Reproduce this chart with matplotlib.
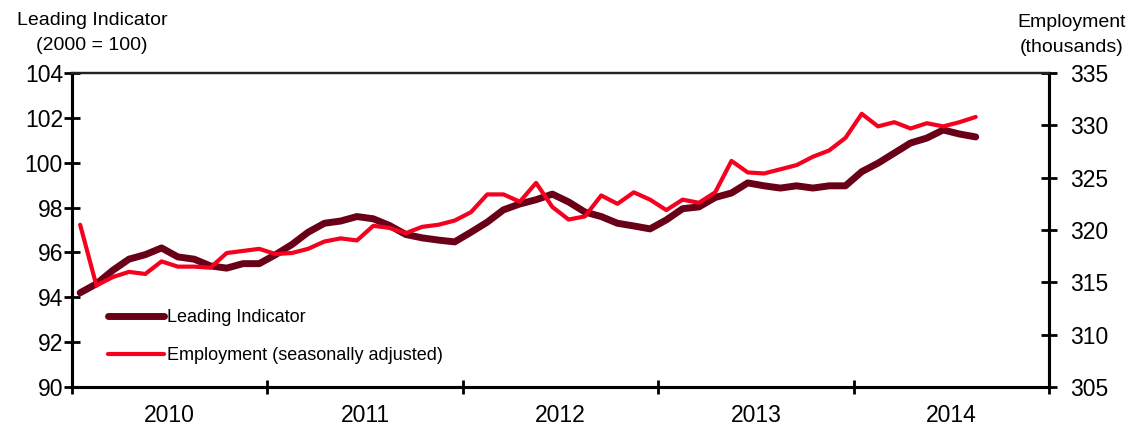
import numpy as np
import matplotlib
matplotlib.use("Agg")
import matplotlib.pyplot as plt

plt.rcParams['font.family'] = ['Liberation Sans', 'DejaVu Sans']

# monthly data, Jan 2010 .. Aug 2014
leading = [94.2, 94.6, 95.2, 95.7, 95.9, 96.2, 95.8, 95.7, 95.4, 95.3, 95.5, 95.5,
           95.9, 96.35, 96.9, 97.3, 97.4, 97.6, 97.5, 97.2, 96.8, 96.65, 96.55, 96.47,
           96.9, 97.35, 97.9, 98.16, 98.35, 98.6, 98.25, 97.8, 97.6, 97.3, 97.18, 97.05,
           97.45, 97.95, 98.03, 98.45, 98.65, 99.1, 98.97, 98.87, 98.97, 98.87, 98.97, 98.97,
           99.6, 99.98, 100.43, 100.88, 101.1, 101.46, 101.28, 101.15]
employment = [320.5, 314.7, 315.5, 316.0, 315.8, 317.0, 316.5, 316.5, 316.4, 317.8, 318.0, 318.2,
              317.7, 317.8, 318.2, 318.9, 319.2, 319.0, 320.4, 320.2, 319.7, 320.3, 320.5, 320.9,
              321.7, 323.4, 323.4, 322.7, 324.5, 322.2, 321.0, 321.3, 323.3, 322.5, 323.6, 322.9,
              321.9, 322.9, 322.6, 323.6, 326.6, 325.5, 325.4, 325.8, 326.2, 327.0, 327.6, 328.8,
              331.1, 329.9, 330.3, 329.7, 330.2, 329.9, 330.3, 330.8]
years = ['2010', '2011', '2012', '2013', '2014']

months = np.arange(len(leading)) + 0.5

fig = plt.figure(figsize=(11.44, 4.30), dpi=100)
ax = fig.add_axes([72/1144, 43/430, 977/1144, 314/430])
ax2 = ax.twinx()

l1, = ax.plot(months, leading, color='#6a0018', lw=5, solid_capstyle='round',
              label='Leading Indicator')
l2, = ax2.plot(months, employment, color='#f5001e', lw=3, solid_capstyle='round',
               label='Employment (seasonally adjusted)')

ax.set_xlim(0, 60)
ax.set_ylim(90, 104)
ax.set_yticks(np.arange(90, 105, 2))
ax2.set_ylim(305, 335)
ax2.set_yticks(np.arange(305, 336, 5))

ax.set_xticks(np.arange(0, 61, 12))
ax.set_xticklabels([])
ax.set_xticks(np.arange(6, 60, 12), minor=True)
ax.set_xticklabels(years, minor=True)

for a in (ax, ax2):
    for s in a.spines.values():
        s.set_linewidth(2.2)
    a.spines['top'].set_linewidth(1.6)
    a.spines['top'].set_color('#222222')

ax.tick_params(axis='y', direction='inout', length=11, width=2, labelsize=16.5, pad=1)
ax2.tick_params(axis='y', direction='inout', length=12, width=2, labelsize=16.5, pad=9)
ax.tick_params(axis='x', which='major', direction='inout', length=10, width=2)
ax.tick_params(axis='x', which='minor', length=0, labelsize=16.5, pad=12)

ax.legend(handles=[l1, l2], loc='upper left', bbox_to_anchor=(0.037, 0.248),
          frameon=False, fontsize=13, handlelength=3.1, handletextpad=0.15,
          labelspacing=1.15, borderpad=0, borderaxespad=0)

fig.text(92/1144, 1 - 12/430, 'Leading Indicator\n(2000 = 100)', ha='center', va='top',
         multialignment='center', fontsize=14, linespacing=1.6)
fig.text(1072/1144, 1 - 14/430, 'Employment\n(thousands)', ha='center', va='top',
         multialignment='center', fontsize=14, linespacing=1.6)

fig.savefig('out.png', dpi=100)
